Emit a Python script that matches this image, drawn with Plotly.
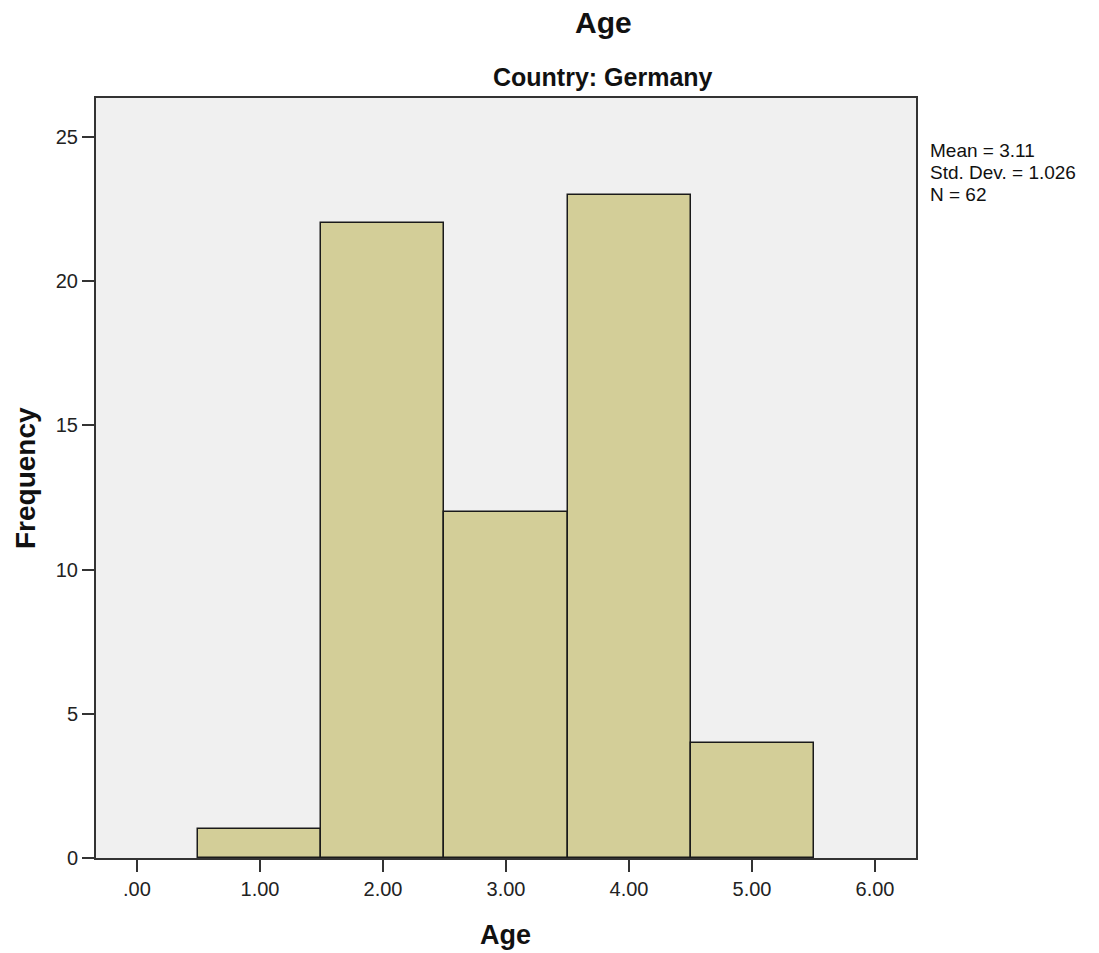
import plotly.graph_objects as go

age_bins = [1, 2, 3, 4, 5]
frequency = [1, 22, 12, 23, 4]
x_tick_vals = [0, 1, 2, 3, 4, 5, 6]
x_tick_text = [".00", "1.00", "2.00", "3.00", "4.00", "5.00", "6.00"]
y_tick_vals = [0, 5, 10, 15, 20, 25]
stats_lines = ["Mean = 3.11", "Std. Dev. = 1.026", "N = 62"]

FONT = "Liberation Sans, Arial, sans-serif"

fig = go.Figure()
fig.add_trace(go.Bar(
    x=age_bins, y=frequency, width=1,
    marker=dict(color="#D3CE98", line=dict(color="#1a1a1a", width=1.5)),
    showlegend=False, hoverinfo="x+y",
))

fig.update_layout(
    width=1099, height=953,
    margin=dict(l=96, r=183, t=98, b=95, autoexpand=False),
    paper_bgcolor="white", plot_bgcolor="#F0F0F0",
    font=dict(family=FONT, color="#222", size=20),
    bargap=0,
)
fig.update_xaxes(
    range=[-0.333, 6.333], tickvals=x_tick_vals, ticktext=x_tick_text,
    ticks="outside", ticklen=12, tickwidth=2, tickcolor="#333",
    showline=True, linecolor="#333", linewidth=2, mirror=True,
    showgrid=False, zeroline=False, automargin=False,
    tickfont=dict(size=20, family=FONT, color="#222"),
)
fig.update_yaxes(
    range=[0, 26.35], tickvals=y_tick_vals,
    ticks="outside", ticklen=12, tickwidth=2, tickcolor="#333",
    showline=True, linecolor="#333", linewidth=2, mirror=True,
    showgrid=False, zeroline=False, automargin=False,
    tickfont=dict(size=20, family=FONT, color="#222"),
)

fig.add_annotation(text="<b>Age</b>", x=0.6195, y=1.0, yshift=76, xref="paper", yref="paper",
                   showarrow=False, font=dict(size=30, family=FONT, color="#111"),
                   xanchor="center", yanchor="middle")
fig.add_annotation(text="<b>Country: Germany</b>", x=0.618, y=1.0, yshift=21,
                   xref="paper", yref="paper", showarrow=False,
                   font=dict(size=25, family=FONT, color="#111"),
                   xanchor="center", yanchor="middle")
fig.add_annotation(text="<b>Frequency</b>", x=0.0, xshift=-71, y=0.5, textangle=-90,
                   xref="paper", yref="paper", showarrow=False,
                   font=dict(size=28, family=FONT, color="#111"),
                   xanchor="center", yanchor="middle")
fig.add_annotation(text="<b>Age</b>", x=0.4988, y=0.0, yshift=-77,
                   xref="paper", yref="paper", showarrow=False,
                   font=dict(size=27, family=FONT, color="#111"),
                   xanchor="center", yanchor="middle")
for i, line in enumerate(stats_lines):
    fig.add_annotation(text=line, x=1.0, xshift=13, y=1.0, yshift=-52 - 22 * i,
                       xref="paper", yref="paper", showarrow=False, align="left",
                       xanchor="left", yanchor="middle", borderpad=0,
                       font=dict(size=19, family=FONT, color="#111"))

fig.write_html("out.html",
               config={"displayModeBar": False},
               post_script="document.body.style.margin='0';document.body.style.overflow='hidden';")
